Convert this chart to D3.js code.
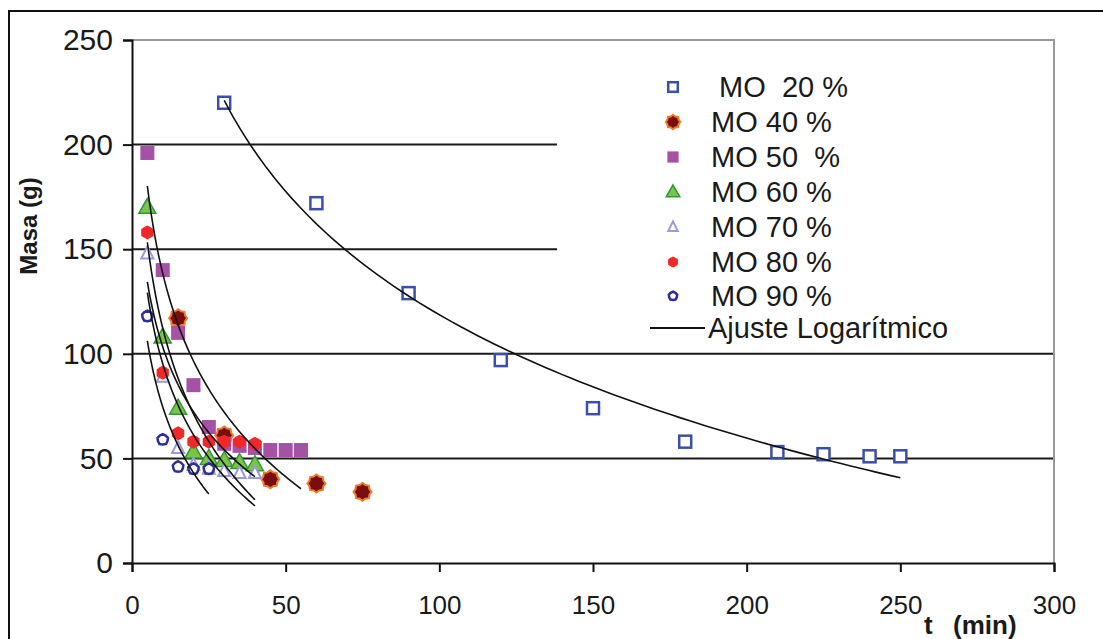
<!DOCTYPE html>
<html lang="es">
<head>
<meta charset="UTF-8">
<title>Masa vs tiempo</title>
<script src="https://d3js.org/d3.v7.min.js"></script>
<style>
  body { margin: 0; background: #fff; }
  text { font-family: "Liberation Sans", Arial, sans-serif; fill: #1a1a1a; }
</style>
</head>
<body>
<script>

// datos
var xTicks = [0, 50, 100, 150, 200, 250, 300];
var yTicks = [0, 50, 100, 150, 200, 250];
var gridValues = [50, 100, 150, 200];

var names = [" MO  20 %", "MO 40 %", "MO 50  %", "MO 60 %", "MO 70 %", "MO 80 %", "MO 90 %"];
var fitName = "Ajuste Logarítmico";

var t20 = [30, 60, 90, 120, 150, 180, 210, 225, 240, 250];
var m20 = [220, 172, 129, 97, 74, 58, 53, 52, 51, 51];
var t40 = [15, 30, 45, 60, 75];
var m40 = [117, 61, 40, 38, 34];
var t50 = [5, 10, 15, 20, 25, 30, 35, 40, 45, 50, 55];
var m50 = [196, 140, 110, 85, 65, 57, 56, 55, 54, 54, 54];
var t60 = [5, 10, 15, 20, 25, 30, 35, 40];
var m60 = [170, 108, 74, 53, 50, 49, 48, 47];
var t70 = [5, 10, 15, 20, 25, 30, 35, 40];
var m70 = [148, 89, 55, 47, 45, 44, 43, 43];
var t80 = [5, 10, 15, 20, 25, 30, 35, 40];
var m80 = [158, 91, 62, 58, 58, 58, 58, 57];
var t90 = [5, 10, 15, 20, 25];
var m90 = [118, 59, 46, 45, 45];

// series with a logarithmic trend line
var withFit = [true, false, true, true, true, true, true];

var series = [
    { t: t20, m: m20, mark: "sqOpen" },
    { t: t40, m: m40, mark: "star" },
    { t: t50, m: m50, mark: "sqFill" },
    { t: t60, m: m60, mark: "triFill" },
    { t: t70, m: m70, mark: "triOpen" },
    { t: t80, m: m80, mark: "blob" },
    { t: t90, m: m90, mark: "ring" }
];

var width = 1103, height = 639;

var x = d3.scaleLinear().domain([0, 300]).range([132, 1054]);
var y = d3.scaleLinear().domain([0, 250]).range([563, 40]);

var svg = d3.select("body").append("svg")
    .attr("width", width)
    .attr("height", height);

// outer frame
svg.append("rect")
    .attr("x", 9).attr("y", 11)
    .attr("width", 1200).attr("height", 1000)
    .attr("fill", "none").attr("stroke", "#111").attr("stroke-width", 2);

// gridlines
svg.selectAll(".grid").data(gridValues).enter()
    .append("line")
    .attr("x1", x(0)).attr("x2", x(300))
    .attr("y1", function (d) { return y(d); })
    .attr("y2", function (d) { return y(d); })
    .attr("stroke", "#1a1a1a").attr("stroke-width", 2);

// plot border top/right (gray)
svg.append("path")
    .attr("d", "M" + x(0) + "," + y(250) + "H" + x(300) + "V" + y(0))
    .attr("fill", "none").attr("stroke", "#999").attr("stroke-width", 2);

// legend box hides gridlines behind it
svg.append("rect")
    .attr("x", 557).attr("y", 58)
    .attr("width", x(300) - 558).attr("height", 284)
    .attr("fill", "#fff");

// axes
var yAxis = svg.append("g")
    .attr("transform", "translate(" + x(0) + ",0)")
    .call(d3.axisLeft(y).tickValues(yTicks).tickSize(9).tickPadding(12));
var xAxis = svg.append("g")
    .attr("transform", "translate(0," + y(0) + ")")
    .call(d3.axisBottom(x).tickValues(xTicks).tickSize(9).tickPadding(24));

[yAxis, xAxis].forEach(function (a) {
    a.select(".domain").attr("stroke", "#111").attr("stroke-width", 2);
    a.selectAll(".tick line").attr("stroke", "#111").attr("stroke-width", 2);
    a.selectAll(".tick text")
        .attr("fill", "#1a1a1a")
        .style("font-family", "'Liberation Sans', Arial, sans-serif");
});
yAxis.selectAll(".tick text").attr("x", -19).style("font-size", "30px");
xAxis.selectAll(".tick text").style("font-size", "26px");

// axis titles
svg.append("text")
    .attr("transform", "translate(37,226) rotate(-90)")
    .attr("text-anchor", "middle")
    .style("font-size", "24px").style("font-weight", "bold")
    .text("Masa (g)");

svg.append("text")
    .attr("x", 924).attr("y", 634)
    .style("font-size", "26px").style("font-weight", "bold")
    .text("t");
svg.append("text")
    .attr("x", 953).attr("y", 634)
    .style("font-size", "26px").style("font-weight", "bold")
    .text("(min)");

// markers
function poly(n, r1, r2) {
    var pts = [];
    for (var i = 0; i < n; i++) {
        var r = i % 2 ? r2 : r1;
        var a = Math.PI * 2 * i / n - Math.PI / 2;
        pts.push([r * Math.cos(a), r * Math.sin(a)]);
    }
    return "M" + pts.join("L") + "Z";
}

function drawMark(g, kind, k) {
    if (kind === "sqOpen") {
        g.append("rect").attr("x", -6 * k).attr("y", -6 * k)
            .attr("width", 12 * k).attr("height", 12 * k)
            .attr("fill", "#fff").attr("stroke", "#3c4fa6").attr("stroke-width", 2.5);
    } else if (kind === "star") {
        g.append("path").attr("d", poly(16, 9 * k, 7.5 * k))
            .attr("fill", "#7a0e0e").attr("stroke", "#f07a2a").attr("stroke-width", 2);
    } else if (kind === "sqFill") {
        g.append("rect").attr("x", -7 * k).attr("y", -7 * k)
            .attr("width", 14 * k).attr("height", 14 * k)
            .attr("fill", "#a650a6");
    } else if (kind === "triFill") {
        g.append("path").attr("d", "M0," + (-9 * k) + "L" + (8.5 * k) + "," + (6 * k) + "L" + (-8.5 * k) + "," + (6 * k) + "Z")
            .attr("fill", "#7cc444").attr("stroke", "#2f9a3a").attr("stroke-width", 1.5);
    } else if (kind === "triOpen") {
        g.append("path").attr("d", "M0," + (-7 * k) + "L" + (6 * k) + "," + (5 * k) + "L" + (-6 * k) + "," + (5 * k) + "Z")
            .attr("fill", "#fff").attr("stroke", "#9a9ade").attr("stroke-width", 2);
    } else if (kind === "blob") {
        g.append("path").attr("d", poly(12, 7 * k, 6.2 * k))
            .attr("fill", "#f02828");
    } else if (kind === "ring") {
        g.append("path").attr("d", poly(10, 5.5 * k, 5 * k))
            .attr("fill", "#fff").attr("stroke", "#2e2e96").attr("stroke-width", 2.5);
    }
}

series.forEach(function (s) {
    var pts = s.t.map(function (t, i) { return [t, s.m[i]]; });
    svg.append("g").selectAll("g").data(pts).enter()
        .append("g")
        .attr("transform", function (d) { return "translate(" + x(d[0]) + "," + y(d[1]) + ")"; })
        .each(function () { drawMark(d3.select(this), s.mark, 1); });
});

// logarithmic least-squares fit  m = a + b ln(t)
function logFit(ts, ms) {
    var lx = ts.map(Math.log);
    var mx = d3.mean(lx), my = d3.mean(ms);
    var sxy = d3.sum(lx, function (v, i) { return (v - mx) * (ms[i] - my); });
    var sxx = d3.sum(lx, function (v) { return (v - mx) * (v - mx); });
    var b = sxy / sxx, a = my - b * mx;
    return function (t) { return a + b * Math.log(t); };
}

var line = d3.line()
    .x(function (d) { return x(d[0]); })
    .y(function (d) { return y(d[1]); });

series.forEach(function (s, i) {
    if (!withFit[i]) return;
    var f = logFit(s.t, s.m);
    var ext = d3.extent(s.t);
    var pts = d3.range(0, 81).map(function (j) {
        var t = ext[0] + (ext[1] - ext[0]) * j / 80;
        return [t, f(t)];
    });
    svg.append("path").datum(pts)
        .attr("d", line)
        .attr("fill", "none").attr("stroke", "#111").attr("stroke-width", 1.6);
});

// legend
var lg = svg.append("g");
var rowY = [87, 122, 157, 192, 227, 262, 296];
names.forEach(function (n, i) {
    var g = lg.append("g").attr("transform", "translate(673," + rowY[i] + ")");
    drawMark(g, series[i].mark, 0.8);
    lg.append("text")
        .attr("x", 711).attr("y", rowY[i] + 10)
        .attr("xml:space", "preserve")
        .style("font-size", "29px")
        .style("white-space", "pre")
        .text(n);
});
lg.append("line")
    .attr("x1", 650).attr("x2", 705)
    .attr("y1", 328).attr("y2", 328)
    .attr("stroke", "#111").attr("stroke-width", 2);
lg.append("text")
    .attr("x", 708).attr("y", 338)
    .style("font-size", "29px")
    .text(fitName);

</script>
</body>
</html>
